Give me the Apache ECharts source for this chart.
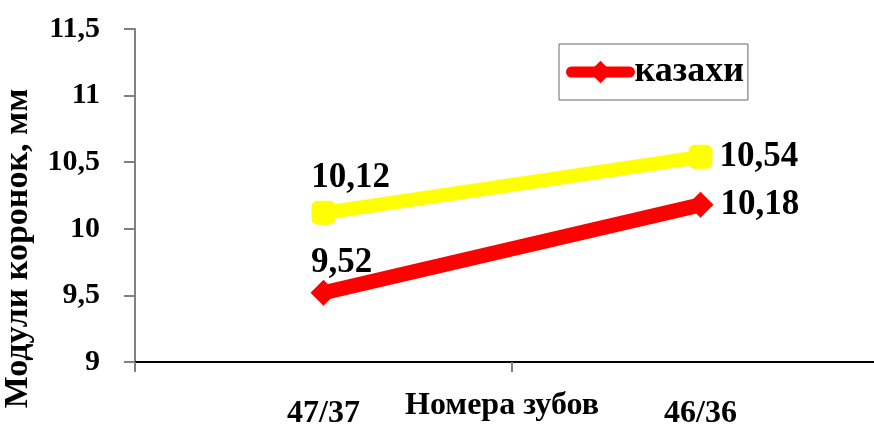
<!DOCTYPE html>
<html><head><meta charset="utf-8">
<script src="https://cdn.jsdelivr.net/npm/echarts@6/dist/echarts.min.js"></script>
<style>html,body{margin:0;padding:0;background:#fff}#c{width:874px;height:425px}</style>
</head><body><div id="c"></div>
<script>
const categories = ['47/37', '46/36'];
const seriesYellowName = 'прочие';
const seriesYellow = [10.12, 10.54];
const seriesRedName = 'казахи';
const seriesRed = [9.52, 10.18];
const yMin = 9, yMax = 11.5, yStep = 0.5;
const xAxisTitle = 'Номера зубов';
const yAxisTitle = 'Модули коронок, мм';

const fmt = v => String(v).replace('.', ',');
const serif = '"Liberation Serif", "Times New Roman", serif';

const chart = echarts.init(document.getElementById('c'), null, {renderer: 'canvas'});
chart.setOption({
  animation: false,
  backgroundColor: '#fff',
  grid: {left: 135, right: -15, top: 29, bottom: 63, containLabel: false, outerBoundsMode: 'none'},
  legend: {
    data: [seriesRedName],
    left: 559, top: 44,
    padding: [10, 4, 10, 7],
    borderColor: '#666', borderWidth: 1,
    itemWidth: 58, itemHeight: 28,
    lineStyle: {width: 11, cap: 'round'},
    textStyle: {fontFamily: serif, fontWeight: 'bold', fontSize: 36, color: '#000'}
  },
  xAxis: {
    type: 'category', data: categories, boundaryGap: true,
    name: xAxisTitle, nameLocation: 'middle', nameGap: 28, nameMoveOverlap: false,
    nameTextStyle: {fontFamily: serif, fontWeight: 'bold', fontSize: 32, color: '#000', padding: [0, 20, 0, 0]},
    axisLine: {lineStyle: {color: '#000', width: 2}},
    axisTick: {show: true, alignWithLabel: false, length: 10, lineStyle: {color: '#808080', width: 2}},
    axisLabel: {interval: 0, margin: 36, fontFamily: serif, fontWeight: 'bold', fontSize: 32, color: '#000'}
  },
  yAxis: {
    type: 'value', min: yMin, max: yMax, interval: yStep,
    name: yAxisTitle, nameLocation: 'middle', nameGap: 100, nameMoveOverlap: false,
    nameTextStyle: {fontFamily: serif, fontWeight: 'bold', fontSize: 34, color: '#000', padding: [0, 106, 0, 0]},
    axisLine: {show: true, lineStyle: {color: '#808080', width: 2}},
    axisTick: {show: true, length: 11, lineStyle: {color: '#808080', width: 2}},
    splitLine: {show: false},
    axisLabel: {margin: 35, fontFamily: serif, fontWeight: 'bold', fontSize: 30, color: '#000', formatter: fmt}
  },
  series: [
    {
      name: seriesYellowName, type: 'line',
      data: seriesYellow.map((v, i) => ({value: v, label: i === 0 ? {position: 'top', offset: [27, 0]} : {position: 'right', offset: [2, 0]}})),
      symbol: 'roundRect', symbolSize: 24,
      lineStyle: {color: '#FFFF00', width: 14},
      itemStyle: {color: '#FFFF00'},
      label: {show: true, fontFamily: serif, fontWeight: 'bold', fontSize: 35, color: '#000',
        formatter: p => fmt(p.value)}
    },
    {
      name: seriesRedName, type: 'line',
      data: seriesRed.map((v, i) => ({value: v, label: i === 0 ? {position: 'top', offset: [18, 6]} : {position: 'right', offset: [2, 0]}})),
      symbol: 'diamond', symbolSize: 26,
      lineStyle: {color: '#FF0000', width: 15},
      itemStyle: {color: '#FF0000'},
      label: {show: true, fontFamily: serif, fontWeight: 'bold', fontSize: 35, color: '#000',
        formatter: p => fmt(p.value)}
    }
  ]
});
</script></body></html>
